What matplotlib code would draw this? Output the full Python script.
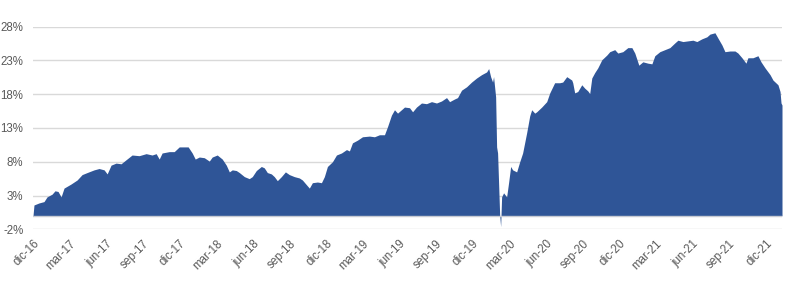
import matplotlib
matplotlib.use("Agg")
import matplotlib.pyplot as plt
from matplotlib.ticker import FixedLocator, FuncFormatter

# x position: months elapsed since dic-16
months = [0.00, 0.08, 0.49, 0.90, 1.15, 1.56, 1.80, 2.05, 2.30, 2.54, 3.11, 3.61, 4.02, 4.43, 5.00,
          5.41, 5.82, 6.07, 6.39, 6.80, 7.21, 7.62, 8.11, 8.69, 9.26, 9.75, 10.08, 10.33, 10.57,
          11.15, 11.56, 11.97, 12.38, 12.70, 13.03, 13.28, 13.61, 14.02, 14.43, 14.67, 15.08,
          15.49, 15.82, 16.07, 16.31, 16.64, 16.89, 17.30, 17.70, 17.95, 18.28, 18.69, 18.93,
          19.18, 19.51, 19.75, 20.00, 20.33, 20.66, 20.98, 21.39, 21.80, 22.05, 22.38, 22.62,
          22.87, 23.28, 23.61, 23.85, 24.10, 24.51, 24.84, 25.25, 25.66, 25.90, 26.15, 26.56,
          26.97, 27.54, 27.95, 28.36, 28.77, 29.02, 29.34, 29.59, 29.84, 30.41, 30.82, 31.07,
          31.39, 31.80, 32.21, 32.62, 33.03, 33.44, 33.85, 34.10, 34.51, 34.75, 35.08, 35.49,
          35.90, 36.31, 36.72, 37.13, 37.30, 37.46, 37.62, 37.70, 37.87, 37.95, 38.03, 38.20,
          38.28, 38.36, 38.52, 38.77, 38.93, 39.10, 39.26, 39.59, 39.84, 40.08, 40.41, 40.66,
          40.82, 41.07, 41.23, 41.64, 42.05, 42.30, 42.70, 43.11, 43.36, 43.69, 44.10, 44.18,
          44.34, 44.59, 44.92, 45.16, 45.41, 45.57, 45.74, 45.98, 46.23, 46.56, 46.97, 47.21,
          47.62, 47.87, 48.28, 48.69, 49.02, 49.26, 49.59, 49.92, 50.33, 50.66, 50.90, 51.31,
          51.72, 52.13, 52.54, 52.79, 53.20, 53.61, 54.02, 54.34, 54.75, 55.16, 55.41, 55.82,
          56.07, 56.39, 56.64, 57.05, 57.46, 57.70, 58.03, 58.36, 58.52, 58.93, 59.34, 59.59,
          59.92, 60.33, 60.57, 60.98, 61.15, 61.23, 61.31]

# cumulative return, %
returns = [0.0, 1.6, 1.9, 2.1, 2.8, 3.2, 3.7, 3.6, 2.8, 4.1, 4.7, 5.3, 6.1, 6.4, 6.8,
           7.0, 6.8, 6.2, 7.5, 7.8, 7.7, 8.3, 9.0, 8.9, 9.2, 9.0, 9.2, 8.4, 9.3,
           9.5, 9.5, 10.2, 10.2, 10.2, 9.3, 8.4, 8.7, 8.6, 8.1, 8.7, 9.0,
           8.4, 7.5, 6.5, 6.8, 6.7, 6.4, 5.8, 5.5, 5.8, 6.7, 7.3, 7.1,
           6.4, 6.2, 5.8, 5.2, 5.8, 6.5, 6.1, 5.8, 5.6, 5.3, 4.6, 4.1,
           4.9, 5.0, 4.9, 5.8, 7.3, 8.0, 9.0, 9.3, 9.8, 9.6, 10.8, 11.2,
           11.7, 11.8, 11.7, 12.0, 12.0, 13.2, 14.9, 15.7, 15.2, 16.1, 16.0, 15.4,
           16.1, 16.7, 16.6, 16.9, 16.7, 17.0, 17.5, 16.9, 17.3, 17.5, 18.6, 19.1,
           19.8, 20.4, 20.9, 21.3, 21.8, 20.6, 19.8, 20.6, 17.6, 10.2, 9.3, 0.1,
           -1.6, 2.8, 3.4, 2.8, 4.9, 7.3, 6.8, 6.5, 8.0, 9.3, 12.3, 14.8,
           15.7, 15.2, 15.4, 16.1, 16.9, 18.2, 19.7, 19.7, 19.8, 20.6, 20.1, 19.7,
           18.2, 18.4, 19.4, 18.9, 18.5, 18.1, 20.4, 21.2, 21.9, 23.1, 23.8, 24.3,
           24.6, 24.1, 24.3, 24.9, 24.9, 24.1, 22.3, 22.8, 22.6, 22.5, 23.7, 24.3,
           24.6, 24.9, 25.6, 26.0, 25.8, 25.9, 26.0, 25.8, 26.2, 26.5, 26.9, 27.1,
           26.3, 25.3, 24.3, 24.4, 24.4, 24.1, 23.4, 22.6, 23.4, 23.4, 23.7, 22.8,
           21.9, 20.9, 20.1, 19.4, 18.4, 16.7, 16.4]

tick_months = [0, 3, 6, 9, 12, 15, 18, 21, 24, 27, 30, 33, 36, 39, 42, 45, 48, 51, 54, 57, 60]
tick_labels = ["dic-16", "mar-17", "jun-17", "sep-17", "dic-17", "mar-18", "jun-18", "sep-18",
               "dic-18", "mar-19", "jun-19", "sep-19", "dic-19", "mar-20", "jun-20", "sep-20",
               "dic-20", "mar-21", "jun-21", "sep-21", "dic-21"]
y_ticks = [-2, 3, 8, 13, 18, 23, 28]

plt.rcParams['font.family'] = ['Liberation Sans', 'DejaVu Sans']

fig = plt.figure(figsize=(7.87, 2.82), dpi=100)
ax = fig.add_axes([33 / 787, 1 - 229.3 / 282, (782 - 33) / 787, (229.3 - 26.7) / 282])

ax.fill_between(months, returns, 0, color="#2F5597", linewidth=0, zorder=3)
ax.axhline(0, color="#c8cbd3", linewidth=1.0, zorder=4)

ax.set_xlim(0, 61.31)
ax.set_ylim(-2, 28)
ax.yaxis.set_major_locator(FixedLocator(y_ticks))
ax.yaxis.set_major_formatter(FuncFormatter(lambda v, p: f"{v:.0f}%"))
ax.grid(axis="y", color="#d9d9d9", linewidth=1.0, zorder=0)
ax.set_axisbelow(True)

ax.set_xticks(tick_months)
ax.set_xticklabels(tick_labels, rotation=45, ha="right", va="top", rotation_mode="anchor")

for s in ax.spines.values():
    s.set_visible(False)
ax.tick_params(axis="both", length=0, labelsize=8.3, colors="#595959")
ax.tick_params(axis="y", pad=7)
ax.tick_params(axis="x", pad=6)

fig.savefig("out.png", dpi=100)
